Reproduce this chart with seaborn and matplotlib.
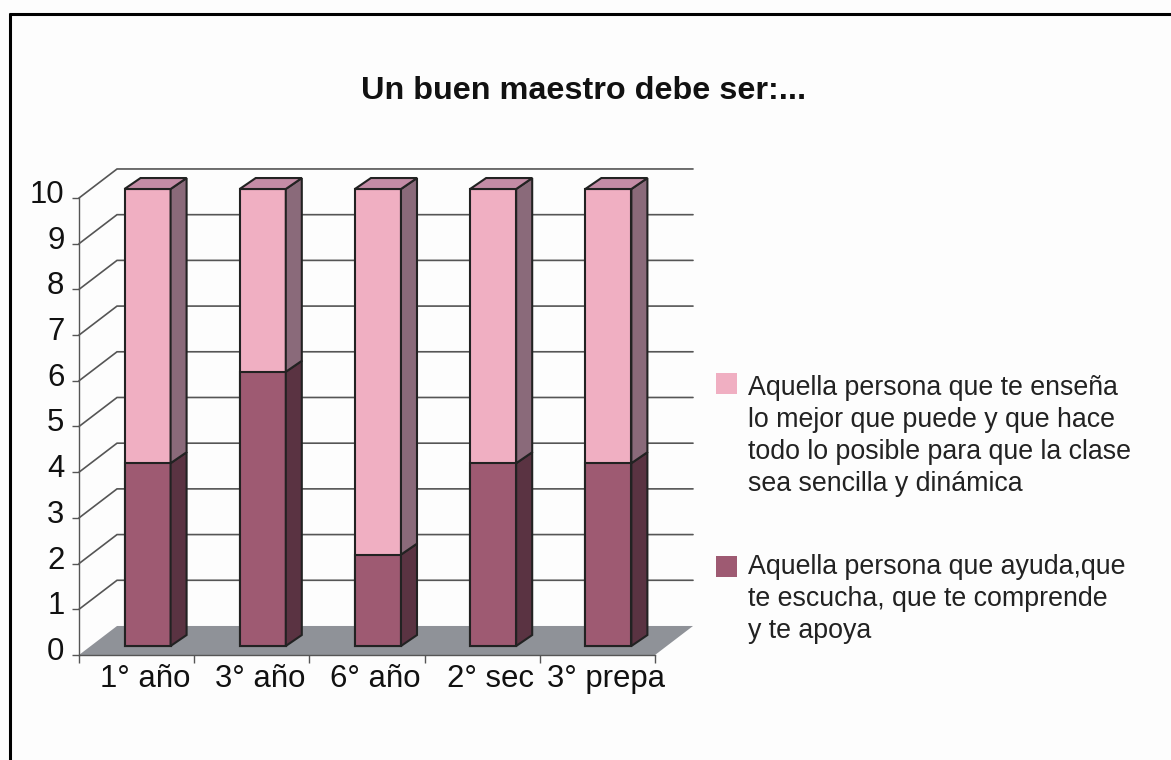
import numpy as np
import seaborn as sns
import matplotlib.pyplot as plt
from matplotlib.patches import Polygon, Rectangle
from matplotlib.lines import Line2D
from matplotlib.transforms import ScaledTranslation

grados = ['1° año', '3° año', '6° año', '2° sec', '3° prepa']
ayuda = [4, 6, 2, 4, 4]
ensena = [6, 4, 8, 6, 6]
niveles = list(range(0, 11))
titulo = 'Un buen maestro debe ser:...'
texto_ensena = ['Aquella persona que te enseña', 'lo mejor que puede y que hace',
                'todo lo posible para que la clase', 'sea sencilla y dinámica']
texto_ayuda = ['Aquella persona que ayuda,que', 'te escucha, que te comprende', 'y te apoya']

# colores: frente, lado, tapa
ROSA = '#f0afc2'
ROSA_LADO = '#8a6a7a'
ROSA_TAPA = '#c48ca6'
VINO = '#9e5a72'
VINO_LADO = '#5a3342'
PISO = '#8f9298'
LINEA = '#555555'
BORDE = '#222222'
FONDO = '#fdfdfd'

sns.set_style('white')
plt.rcParams['font.family'] = ['Liberation Sans', 'DejaVu Sans']

W, H = 1171, 760
fig = plt.figure(figsize=(W / 100, H / 100), dpi=100, facecolor=FONDO)
ax = fig.add_axes([79 / W, (H - 655) / H, 576 / W, 457 / H])
ax.patch.set_alpha(0)

# profundidad de la pared y de las barras en unidades de datos
PX = 0.33
PY = 0.635
BX = 0.095
BY = 0.197
LX = 0.139
LY = 0.24
ANCHO = 0.4

total = np.array(ayuda) + np.array(ensena)
sns.barplot(x=grados, y=total, color=ROSA, saturation=1, width=ANCHO,
            edgecolor=BORDE, linewidth=1.5, zorder=3, ax=ax)
sns.barplot(x=grados, y=ayuda, color=VINO, saturation=1, width=ANCHO,
            edgecolor=BORDE, linewidth=1.5, zorder=3, ax=ax)
for p in ax.patches:
    p.set_x(p.get_x() + BX)
    p.set_y(p.get_y() + BY)
    p.set_clip_on(False)

ax.set_xlim(-0.5, 4.5)
ax.set_ylim(0, 10)
ax.set_xlabel('')
ax.set_ylabel('')


def cara(puntos, color, z=3):
    ax.add_patch(Polygon(puntos, closed=True, facecolor=color, edgecolor=BORDE,
                         linewidth=1.5, zorder=z, clip_on=False))


# piso y lineas de la pared
ax.add_patch(Polygon([(-0.5, 0), (4.5, 0), (4.5 + PX, PY), (-0.5 + PX, PY)],
                     closed=True, facecolor=PISO, edgecolor='none', zorder=1, clip_on=False))
for n in niveles[1:]:
    ax.plot([-0.5, -0.5 + PX, 4.5 + PX], [n, n + PY, n + PY], color=LINEA, lw=1.2,
            zorder=1, clip_on=False, solid_joinstyle='miter')

# caras laterales y tapas
for i in range(len(grados)):
    der = i + ANCHO / 2 + BX
    izq = i - ANCHO / 2 + BX
    a = ayuda[i] + BY
    t = total[i] + BY
    cara([(der, BY), (der + LX, BY + LY), (der + LX, a + LY), (der, a)], VINO_LADO)
    cara([(der, a), (der + LX, a + LY), (der + LX, t + LY), (der, t)], ROSA_LADO)
    cara([(izq, t), (izq + LX, t + LY), (der + LX, t + LY), (der, t)], ROSA_TAPA)

sns.despine(ax=ax, top=True, right=True)
for s in ['left', 'bottom']:
    ax.spines[s].set_color(LINEA)
    ax.spines[s].set_linewidth(1.0)

ax.set_yticks(niveles)
ax.tick_params(axis='y', left=True, length=5, width=1, color=LINEA, pad=5.5,
               labelsize=22.4, labelcolor='#111111')
sube = ScaledTranslation(0, 4.7 / 72, fig.dpi_scale_trans)
for lab in ax.get_yticklabels():
    lab.set_transform(lab.get_transform() + sube)

ax.set_xticks(np.arange(len(grados) + 1) - 0.5, labels=[])
ax.set_xticks(np.arange(len(grados)), labels=grados, minor=True)
ax.tick_params(axis='x', which='major', bottom=True, length=6, width=1, color=LINEA)
ax.tick_params(axis='x', which='minor', bottom=False, length=0, pad=6.5,
               labelsize=22.4, labelcolor='#111111')
corre = ScaledTranslation(6.3 / 72, 0, fig.dpi_scale_trans)
for lab in ax.get_xticklabels(minor=True):
    lab.set_transform(lab.get_transform() + corre)

fig.text(584 / W, 1 - 99 / H, titulo, ha='center', va='baseline', fontsize=23.3,
         fontweight='bold', color='#111111')


def leyenda(y0, color, lineas, y1):
    fig.add_artist(Rectangle((716 / W, 1 - (y0 + 21) / H), 21 / W, 21 / H,
                             transform=fig.transFigure, facecolor=color, edgecolor='none'))
    for k, t in enumerate(lineas):
        fig.text(748 / W, 1 - (y1 + k * 32) / H, t, ha='left', va='baseline',
                 fontsize=19.3, color='#222222')


leyenda(373, ROSA, texto_ensena, 395)
leyenda(556, VINO, texto_ayuda, 574)

# marco de la imagen
fig.add_artist(Line2D([10 / W, 10 / W], [0, 1 - 13 / H], color='black', lw=2.2,
                      transform=fig.transFigure, solid_capstyle='butt'))
fig.add_artist(Line2D([9 / W, 1], [1 - 13.5 / H, 1 - 13.5 / H], color='black', lw=2.2,
                      transform=fig.transFigure, solid_capstyle='butt'))

fig.savefig('out.png', dpi=100, facecolor=FONDO)
